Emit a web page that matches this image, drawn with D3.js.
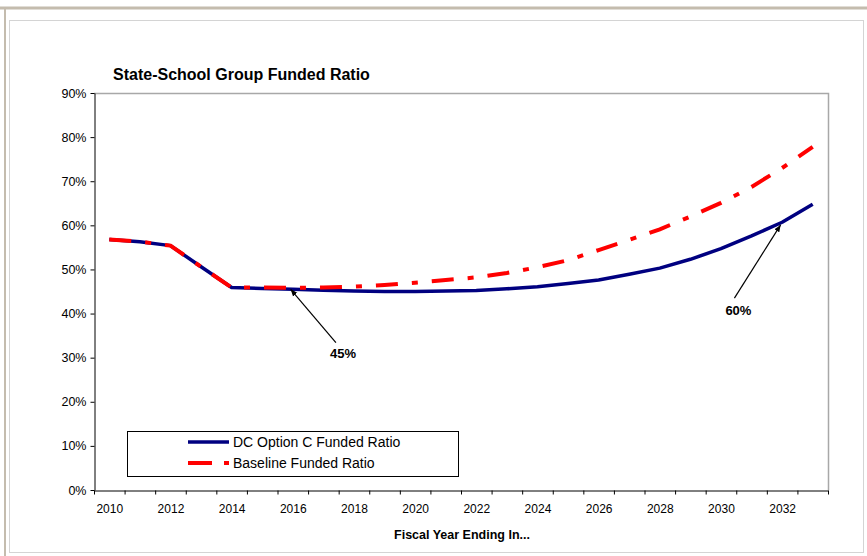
<!DOCTYPE html>
<html>
<head>
<meta charset="utf-8" />
<style>
	body { margin: 0; background: #fff; }
	svg { display: block; font-family: "Liberation Sans", Arial, sans-serif; }
</style>
<title>State-School Group Funded Ratio</title>
</head>
<body>
<script src="https://cdn.jsdelivr.net/npm/d3@7"></script>
<script>
	// data
	var years = d3.range(2010, 2034);
	var dcOptionC = [56.8, 56.3, 55.4, 50.6, 45.9, 45.7, 45.5, 45.3, 45.1, 45.0, 45.0, 45.1,
		45.2, 45.6, 46.1, 46.8, 47.6, 48.9, 50.3, 52.3, 54.7, 57.6, 60.7, 64.8];
	var baseline = [56.8, 56.3, 55.4, 50.6, 45.9, 45.9, 45.8, 45.9, 46.1, 46.5, 47.0, 47.6,
		48.2, 49.2, 50.5, 52.1, 54.4, 56.7, 59.1, 62.0, 65.1, 68.7, 73.0, 77.8];
	var yTicks = [0, 10, 20, 30, 40, 50, 60, 70, 80, 90];
	var xLabels = d3.range(2010, 2034, 2);
	var seriesNames = ["DC Option C Funded Ratio", "Baseline Funded Ratio"];
	// annotations: label, arrow tip, arrow tail, text position (year, %)
	var notes = [
		{ text: "45%", tip: [2016.43, 45.5], tail: [2017.91, 33.4], pos: [2018.14, 29.9] },
		{ text: "60%", tip: [2032.45, 60.1], tail: [2030.94, 43.5], pos: [2031.07, 39.7] },
	];

	var W = 867, H = 556;
	var pLeft = 94, pRight = 828, pTop = 93, pBottom = 490;

	var svg = d3.select("body").append("svg").attr("width", W).attr("height", H);

	// frame
	svg.append("rect").attr("x", 9.5).attr("y", 20.5).attr("width", 854).attr("height", 532)
		.attr("fill", "#fff").attr("stroke", "#d4d4d4");
	svg.append("line").attr("x1", 0).attr("x2", W).attr("y1", 8).attr("y2", 8)
		.attr("stroke", "#c4bcae").attr("stroke-width", 3);
	svg.append("line").attr("x1", 5).attr("x2", 5).attr("y1", 8).attr("y2", H)
		.attr("stroke", "#c4bcae").attr("stroke-width", 2);

	// scales
	var x = d3.scaleLinear().domain([2010, 2034]).range([pLeft, pRight]);
	var y = d3.scaleLinear().domain([0, 90]).range([pBottom, pTop]);
	var cx = (yr) => x(yr + 0.5);

	// plot border (top & right)
	svg.append("path")
		.attr("d", `M${pLeft},${pTop + 0.5}H${pRight + 0.5}V${pBottom}`)
		.attr("fill", "none").attr("stroke", "#a8a8a8").attr("stroke-width", 1.5);

	// y axis
	var yAxis = svg.append("g").attr("transform", `translate(${pLeft + 0.5},0)`)
		.call(d3.axisLeft(y).tickValues(yTicks).tickSize(4).tickSizeOuter(0)
			.tickFormat((d) => d + "%"));
	yAxis.selectAll("text").attr("font-size", 12.5).attr("fill", "#000").attr("x", -8)
		.attr("font-family", "Liberation Sans, Arial, sans-serif");

	// x axis: ticks at category boundaries, labels in between
	svg.append("g").attr("transform", `translate(0,${pBottom + 0.5})`)
		.call(d3.axisBottom(x).tickValues(d3.range(2010, 2035)).tickSize(4)
			.tickSizeOuter(0).tickFormat(""));
	svg.append("g").attr("transform", `translate(0,${pBottom})`)
		.call(d3.axisBottom(x).tickValues(xLabels.map((d) => d + 0.5)).tickSize(0)
			.tickPadding(14).tickFormat((d) => Math.floor(d)))
		.call((g) => g.select(".domain").remove())
		.selectAll("text").attr("font-size", 12).attr("fill", "#000")
		.attr("font-family", "Liberation Sans, Arial, sans-serif");
	svg.selectAll(".domain, .tick line").attr("stroke", "#000");

	// title and axis title
	svg.append("text").attr("x", 113).attr("y", 80)
		.attr("font-size", 16).attr("font-weight", "bold")
		.text("State-School Group Funded Ratio");
	svg.append("text").attr("x", 462).attr("y", 539).attr("text-anchor", "middle")
		.attr("font-size", 12.5).attr("font-weight", "bold")
		.text("Fiscal Year Ending In...");

	// lines
	var line = d3.line().x((d, i) => cx(years[i])).y((d) => y(d));
	svg.append("path").datum(dcOptionC).attr("d", line)
		.attr("fill", "none").attr("stroke", "#000080").attr("stroke-width", 3.5)
		.attr("stroke-linejoin", "round");
	svg.append("path").datum(baseline).attr("d", line)
		.attr("fill", "none").attr("stroke", "#ff0000").attr("stroke-width", 4)
		.attr("stroke-dasharray", "22,14,6,14");

	// annotations
	svg.append("defs").append("marker").attr("id", "arrow")
		.attr("viewBox", "0 0 10 10").attr("refX", 10).attr("refY", 5)
		.attr("markerWidth", 7).attr("markerHeight", 7).attr("orient", "auto")
		.attr("markerUnits", "userSpaceOnUse")
		.append("path").attr("d", "M0,1L10,5L0,9Z").attr("fill", "#000");
	notes.forEach((n) => {
		svg.append("line")
			.attr("x1", x(n.tail[0])).attr("y1", y(n.tail[1]))
			.attr("x2", x(n.tip[0])).attr("y2", y(n.tip[1]))
			.attr("stroke", "#000").attr("stroke-width", 1.2)
			.attr("marker-end", "url(#arrow)");
		svg.append("text").attr("x", x(n.pos[0])).attr("y", y(n.pos[1]))
			.attr("text-anchor", "middle").attr("font-size", 13).attr("font-weight", "bold")
			.text(n.text);
	});

	// legend
	var lg = svg.append("g");
	lg.append("rect").attr("x", 127.5).attr("y", 431.5).attr("width", 331).attr("height", 45)
		.attr("fill", "#fff").attr("stroke", "#000");
	lg.append("line").attr("x1", 188).attr("x2", 229).attr("y1", 442).attr("y2", 442)
		.attr("stroke", "#000080").attr("stroke-width", 3.5);
	lg.append("line").attr("x1", 188).attr("x2", 229).attr("y1", 463).attr("y2", 463)
		.attr("stroke", "#ff0000").attr("stroke-width", 4).attr("stroke-dasharray", "24,12,5,20");
	lg.selectAll(".lt").data(seriesNames).join("text")
		.attr("x", 233).attr("y", (d, i) => 442 + i * 21).attr("dy", "0.35em")
		.attr("font-size", 14).text((d) => d);
</script>
</body>
</html>
